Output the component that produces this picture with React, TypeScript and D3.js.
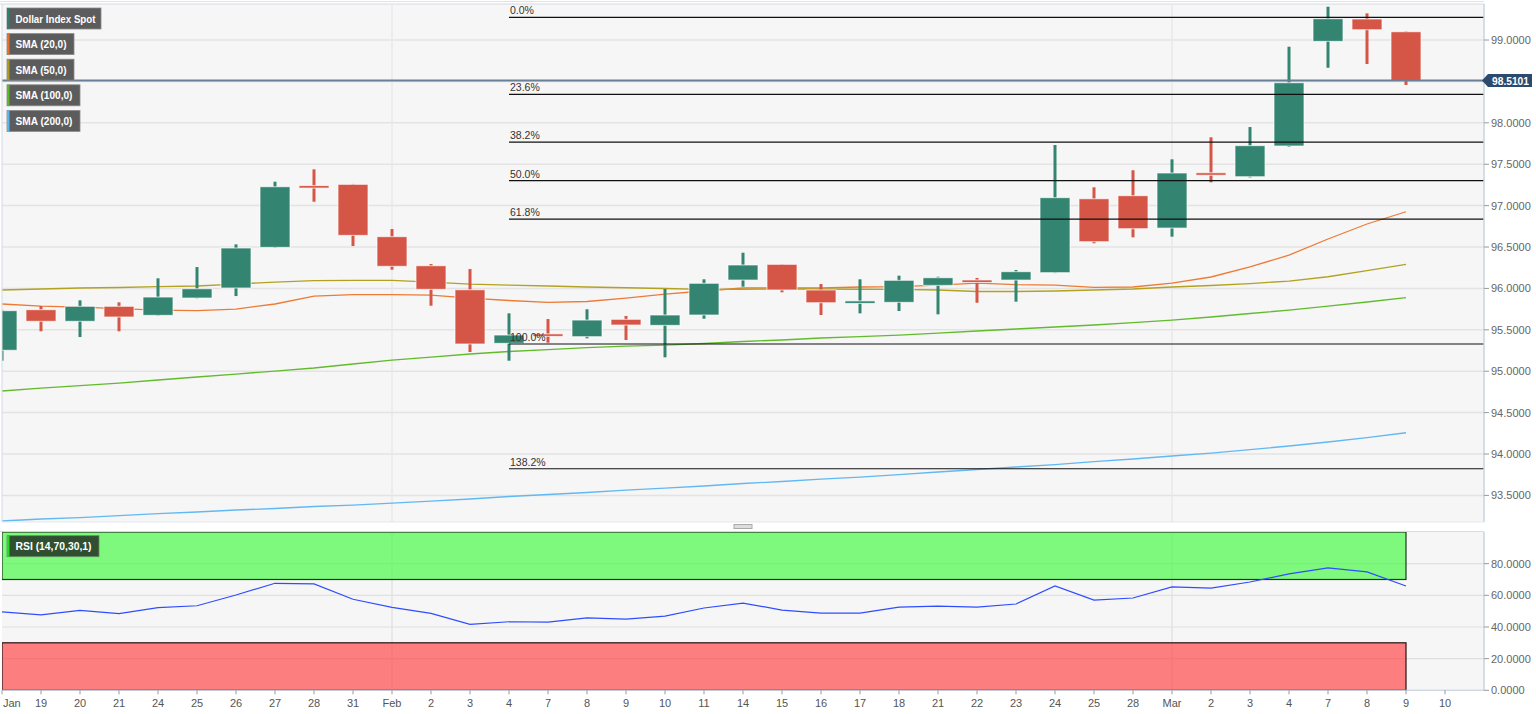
import React from "react";
import * as d3 from "d3";

const dates = ["Jan","19","20","21","24","25","26","27","28","31","Feb","2","3","4","7","8","9","10","11","14","15","16","17","18","21","22","23","24","25","28","Mar","2","3","4","7","8","9","10"];
const dateKeys = dates.map((d, i) => `${i}:${d}`);

const opens = [95.253,95.743,95.603,95.784,95.675,95.884,96.005,96.496,97.232,97.257,96.625,96.274,95.984,95.337,95.440,95.417,95.627,95.554,95.679,96.101,96.291,95.981,95.831,95.832,96.037,96.092,96.101,96.190,97.083,97.120,96.729,97.387,97.349,97.720,98.984,99.254,99.100];
const highs = [95.740,95.787,95.856,95.832,96.122,96.258,96.532,97.289,97.438,97.262,96.717,96.295,96.234,95.699,95.630,95.748,95.667,95.993,96.110,96.431,96.293,96.053,96.110,96.154,96.141,96.126,96.222,97.732,97.221,97.427,97.559,97.825,97.949,98.919,99.402,99.322,99.105];
const lows = [95.127,95.482,95.413,95.482,95.670,95.880,95.908,96.490,97.047,96.512,96.226,95.791,95.232,95.127,95.344,95.397,95.377,95.168,95.634,96.021,95.953,95.679,95.699,95.727,95.687,95.827,95.840,96.185,96.545,96.617,96.625,97.281,97.340,97.710,98.665,98.710,98.457];
const closes = [95.731,95.603,95.784,95.655,95.896,95.996,96.488,97.228,97.222,96.641,96.267,95.989,95.329,95.437,95.432,95.618,95.558,95.679,96.062,96.283,95.981,95.827,95.837,96.098,96.129,96.082,96.202,97.096,96.564,96.721,97.394,97.377,97.724,98.484,99.257,99.124,98.5101];

const sma20 = [95.812,95.787,95.775,95.757,95.739,95.731,95.751,95.812,95.908,95.924,95.924,95.920,95.884,95.854,95.832,95.842,95.884,95.932,95.969,96.005,96.005,96.005,96.017,96.021,96.041,96.065,96.047,96.041,96.013,96.017,96.065,96.138,96.259,96.403,96.597,96.778,96.926];
const sma50 = [95.981,95.993,96.005,96.011,96.021,96.029,96.053,96.077,96.095,96.098,96.098,96.077,96.053,96.041,96.029,96.017,96.008,95.999,95.989,95.990,95.993,95.993,95.990,95.989,95.981,95.963,95.963,95.969,95.981,95.993,96.017,96.035,96.059,96.089,96.141,96.216,96.291];
const sma100 = [94.761,94.797,94.827,94.857,94.894,94.930,94.966,95.002,95.039,95.087,95.135,95.171,95.208,95.238,95.262,95.286,95.304,95.316,95.335,95.359,95.377,95.401,95.419,95.437,95.461,95.486,95.510,95.534,95.558,95.588,95.618,95.655,95.697,95.739,95.787,95.836,95.888];
const sma200 = [93.191,93.215,93.233,93.257,93.281,93.300,93.324,93.342,93.366,93.384,93.408,93.432,93.457,93.487,93.511,93.535,93.565,93.589,93.614,93.644,93.668,93.698,93.722,93.752,93.783,93.813,93.843,93.873,93.909,93.940,93.976,94.012,94.054,94.097,94.145,94.199,94.257];

const rsi = [49.5,47.6,50.5,48.4,52.2,53.4,60.2,67.6,67.2,57.5,52.4,48.6,41.7,43.3,43.1,45.7,45.0,46.9,52.0,55.1,50.7,48.8,48.8,52.6,53.2,52.6,54.5,65.9,57.0,58.3,65.3,64.6,68.4,73.5,77.3,74.8,65.9];

const priceTicks = [93.5,94,94.5,95,95.5,96,96.5,97,97.5,98,98.5,99];
const priceTickLabels = priceTicks.filter(v => v !== 98.5);
const rsiTicks = [0,20,40,60,80];
const fibLevels = [0,23.6,38.2,50,61.8,100,138.2];
const fibLabels = ["0.0%","23.6%","38.2%","50.0%","61.8%","100.0%","138.2%"];
const fibHigh = 99.274;
const fibLow = 95.329;
const fibStartIndex = 13;
const lastPrice = 98.5101;

const legendLabels = ["Dollar Index Spot","SMA (20,0)","SMA (50,0)","SMA (100,0)","SMA (200,0)"];
const legendColors = ["#2f8070","#e8702a","#a89b1e","#5cb82a","#5ab4f0"];
const smaSeries = [sma20, sma50, sma100, sma200];
const smaColors = ["#ee7a35","#b3a222","#62bb2c","#62b8f2"];

const FONT = "'Liberation Sans', Arial, sans-serif";
const UP = "#338471";
const DOWN = "#d55646";

export default function App() {
  const left = 2, right = 1484;
  const mainTop = 4, mainBottom = 522;
  const rsiTop = 532, rsiBottom = 690.3;

  const x = d3.scalePoint<string>().domain(dateKeys).range([2, 1445]);
  const y = d3.scaleLinear().domain([93.179, 99.435]).range([mainBottom, mainTop]);
  const yr = d3.scaleLinear().domain([0, 100]).range([rsiBottom, rsiTop]);
  const xi = (i: number) => x(dateKeys[i]) as number;

  const line = d3.line<number>().x((_, i) => xi(i)).y(v => y(v));
  const rsiLine = d3.line<number>().x((_, i) => xi(i)).y(v => yr(v));
  const bw = 30;
  const lastX = xi(closes.length - 1);
  const legendW = [94, 67, 67, 73, 73];
  const legendTextW = [80, 51, 51, 57, 57];

  return (
    <svg width={1536} height={714} style={{ position: "absolute", left: 0, top: 0, background: "#fff" }} fontFamily={FONT}>
      <defs>
        <clipPath id="mainclip"><rect x={left} y={mainTop} width={right - left} height={mainBottom - mainTop} /></clipPath>
        <clipPath id="rsiclip"><rect x={left} y={rsiTop} width={right - left} height={rsiBottom - rsiTop} /></clipPath>
      </defs>
      <rect x={left} y={mainTop} width={right - left} height={mainBottom - mainTop} fill="#f6f6f6" />
      <line x1={0} x2={right} y1={1.5} y2={1.5} stroke="#dde3ec" />
      <line x1={0} x2={right} y1={mainTop} y2={mainTop} stroke="#d3dbe6" />
      {priceTicks.map(v => (
        <line key={v} x1={left} x2={right} y1={y(v)} y2={y(v)} stroke="#e3e3e3" strokeWidth={1.5} />
      ))}
      {["10:Feb", "30:Mar"].map(k => (
        <line key={k} x1={x(k)} x2={x(k)} y1={mainTop} y2={mainBottom} stroke="#e6e6e6" strokeWidth={1.2} />
      ))}
      <g clipPath="url(#mainclip)">
        {smaSeries.map((s, i) => (
          <path key={i} d={line(s) || ""} fill="none" stroke={smaColors[i]} strokeWidth={1.3} />
        ))}
        {closes.map((c, i) => {
          const o = opens[i];
          const up = c >= o;
          const col = up ? UP : DOWN;
          const cx = xi(i);
          let top = y(Math.max(o, c));
          let bot = y(Math.min(o, c));
          if (bot - top < 2.5) { const m = (top + bot) / 2; top = m - 1.25; bot = m + 1.25; }
          return (
            <g key={i}>
              <rect x={cx - 1.5} y={y(highs[i])} width={3} height={y(lows[i]) - y(highs[i])} fill={col} />
              <rect x={cx - bw / 2} y={top} width={bw} height={bot - top} fill={col} stroke="rgba(255,255,255,0.7)" strokeWidth={1} />
            </g>
          );
        })}
        {fibLevels.map((p, i) => {
          const v = fibHigh - (fibHigh - fibLow) * p / 100;
          return (
            <g key={p}>
              <line x1={xi(fibStartIndex)} x2={right} y1={y(v)} y2={y(v)} stroke="#111" strokeWidth={1.2} />
              <text x={xi(fibStartIndex) + 1} y={y(v) - 3} fontSize={10.5} fill="#333">{fibLabels[i]}</text>
            </g>
          );
        })}
        <line x1={left} x2={right} y1={y(lastPrice)} y2={y(lastPrice)} stroke="#6a8099" strokeWidth={2} />
      </g>
      <line x1={left} x2={left} y1={mainTop} y2={mainBottom} stroke="#d3dbe6" />
      <line x1={right} x2={right} y1={mainTop} y2={mainBottom} stroke="#c9d4e2" strokeWidth={1.5} />
      <line x1={left} x2={right} y1={mainBottom} y2={mainBottom} stroke="#e3e8ef" />
      {priceTickLabels.map(v => (
        <g key={v}>
          <line x1={right} x2={right + 5} y1={y(v)} y2={y(v)} stroke="#999" />
          <text x={right + 7} y={y(v) + 4} fontSize={11} fill="#666">{v.toFixed(4)}</text>
        </g>
      ))}
      <path d={`M${right - 2},${y(lastPrice)} L${right + 4},${y(lastPrice) - 6.5} L1532,${y(lastPrice) - 6.5} L1532,${y(lastPrice) + 6.5} L${right + 4},${y(lastPrice) + 6.5} Z`} fill="#2b4a6e" />
      <text x={right + 8} y={y(lastPrice) + 4} fontSize={11} fontWeight="bold" fill="#fff" textLength={37} lengthAdjust="spacingAndGlyphs">{lastPrice.toFixed(4)}</text>
      {legendLabels.map((t, i) => {
        const by = 8 + i * 25.6;
        return (
          <g key={t}>
            <rect x={7} y={by} width={legendW[i]} height={21} fill="#5c5c5c" stroke="#8a8a8a" strokeWidth={0.8} />
            <rect x={7} y={by} width={2.5} height={21} fill={legendColors[i]} />
            <text x={15.5} y={by + 14.5} fontSize={11} fontWeight="bold" fill="#fff" textLength={legendTextW[i]} lengthAdjust="spacingAndGlyphs">{t}</text>
          </g>
        );
      })}
      <rect x={0} y={mainBottom + 1} width={right} height={rsiTop - mainBottom - 2} fill="#fff" />
      <line x1={0} x2={right} y1={rsiTop - 0.5} y2={rsiTop - 0.5} stroke="#d3dbe6" />
      <rect x={734} y={524.5} width={18} height={4} fill="#ddd" stroke="#aaa" strokeWidth={1} />
      <rect x={left} y={rsiTop} width={right - left} height={rsiBottom - rsiTop} fill="#f6f6f6" />
      {rsiTicks.map(v => (
        <line key={v} x1={left} x2={right} y1={yr(v)} y2={yr(v)} stroke="#e0e0e0" strokeWidth={1.2} />
      ))}
      {["10:Feb", "30:Mar"].map(k => (
        <line key={k} x1={x(k)} x2={x(k)} y1={rsiTop} y2={rsiBottom} stroke="#e0e0e0" strokeWidth={1.2} />
      ))}
      <g clipPath="url(#rsiclip)">
        <rect x={left} y={yr(100)} width={lastX - left} height={yr(70) - yr(100)} fill="rgba(70,250,70,0.68)" stroke="#1d3a1d" strokeWidth={1.2} />
        <rect x={left} y={yr(30)} width={lastX - left} height={yr(0) - yr(30)} fill="rgba(255,70,70,0.68)" stroke="#2a1010" strokeWidth={1.2} />
        <path d={rsiLine(rsi) || ""} fill="none" stroke="#2f4dff" strokeWidth={1.2} />
      </g>
      <line x1={right} x2={right} y1={rsiTop} y2={rsiBottom} stroke="#c9d4e2" strokeWidth={1.5} />
      <line x1={left} x2={right} y1={rsiBottom} y2={rsiBottom} stroke="#c9d4e2" />
      {rsiTicks.map(v => (
        <g key={v}>
          <line x1={right} x2={right + 5} y1={yr(v)} y2={yr(v)} stroke="#999" />
          <text x={right + 7} y={yr(v) + 4} fontSize={11} fill="#666">{v.toFixed(4)}</text>
        </g>
      ))}
      <rect x={7} y={535.7} width={92} height={21} fill="#2f4f30" stroke="#6a8a6a" strokeWidth={0.8} />
      <rect x={7} y={535.7} width={2.5} height={21} fill="#22dd22" />
      <text x={15.5} y={550.2} fontSize={11} fontWeight="bold" fill="#fff" textLength={76} lengthAdjust="spacingAndGlyphs">RSI (14,70,30,1)</text>
      {dateKeys.map((k, i) => (
        <g key={k}>
          <line x1={x(k)} x2={x(k)} y1={rsiBottom} y2={rsiBottom + 4} stroke="#999" />
          <text x={i === 0 ? 3 : (x(k) as number)} y={707} fontSize={11} fill="#555" textAnchor={i === 0 ? "start" : "middle"}>{dates[i]}</text>
        </g>
      ))}
    </svg>
  );
}
